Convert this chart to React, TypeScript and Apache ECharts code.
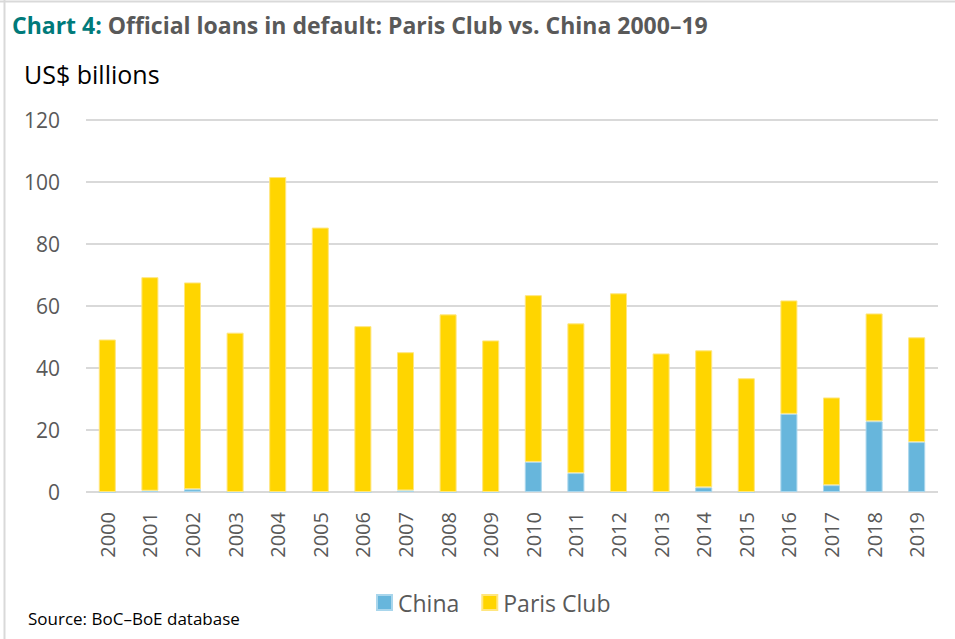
import React, { useEffect, useRef } from "react";
import * as echarts from "echarts";

const years = ["2000","2001","2002","2003","2004","2005","2006","2007","2008","2009","2010","2011","2012","2013","2014","2015","2016","2017","2018","2019"];
const china = [0, 0.4, 0.9, 0, 0, 0, 0, 0.5, 0, 0, 9.7, 6.1, 0, 0, 1.5, 0, 25.2, 2.2, 22.8, 16.1];
const parisClub = [49.2, 68.9, 66.7, 51.4, 101.6, 85.3, 53.5, 44.6, 57.3, 48.9, 53.8, 48.3, 64.1, 44.7, 44.2, 36.7, 36.6, 28.3, 34.8, 33.8];
const yTicks = { min: 0, max: 120, interval: 20 };

const FONT = "'Open Sans', 'Noto Sans', sans-serif";

export default function App() {
  const ref = useRef<HTMLDivElement>(null);
  useEffect(() => {
    if (!ref.current) return;
    const chart = echarts.init(ref.current, null, { renderer: "svg" });
    chart.setOption({
      animation: false,
      backgroundColor: "#ffffff",
      textStyle: { fontFamily: FONT },
      grid: { left: 86, right: 17, top: 120, height: 372 },
      xAxis: {
        type: "category",
        data: years,
        axisLine: { show: false },
        axisTick: { show: false },
        axisLabel: { rotate: 90, margin: 20, fontSize: 20, color: "#595959", fontFamily: FONT },
      },
      yAxis: {
        type: "value",
        min: yTicks.min,
        max: yTicks.max,
        interval: yTicks.interval,
        axisLine: { show: false },
        axisTick: { show: false },
        axisLabel: { margin: 26, fontSize: 21, color: "#595959", fontFamily: FONT },
        splitLine: { lineStyle: { color: "#d9d9d9", width: 2 } },
      },
      legend: {
        top: 586,
        left: 371,
        itemWidth: 15,
        itemHeight: 15,
        itemGap: 22,
        icon: "rect",
        textStyle: { fontSize: 23, color: "#595959", fontFamily: FONT, padding: [0, 0, 0, 1] },
        data: ["China", "Paris Club"],
      },
      series: [
        {
          name: "China",
          type: "bar",
          stack: "total",
          data: china,
          barCategoryGap: "60%",
          itemStyle: { color: "#67b6dc", borderColor: "#a9d6ec", borderWidth: 1 },
        },
        {
          name: "Paris Club",
          type: "bar",
          stack: "total",
          data: parisClub,
          barCategoryGap: "60%",
          itemStyle: { color: "#ffd500", borderColor: "#ffe680", borderWidth: 1 },
        },
      ],
      graphic: [
        { type: "line", shape: { x1: 0, y1: 1.5, x2: 955, y2: 1.5 }, style: { stroke: "#d9d9d9", lineWidth: 2 } },
        { type: "line", shape: { x1: 4.5, y1: 0, x2: 4.5, y2: 639 }, style: { stroke: "#d9d9d9", lineWidth: 2 } },
        {
          type: "text",
          left: 12,
          top: 13,
          style: {
            text: "{a|Chart 4:}{b| Official loans in default: Paris Club vs. China 2000–19}",
            rich: {
              a: { fontSize: 23, fontWeight: "bold", fill: "#007a7a", fontFamily: FONT },
              b: { fontSize: 23, fontWeight: "bold", fill: "#595959", fontFamily: FONT },
            },
          },
        },
        {
          type: "text",
          left: 24,
          top: 61,
          style: { text: "US$ billions", fontSize: 25, fill: "#000000", fontFamily: FONT },
        },
        {
          type: "text",
          left: 28,
          top: 610,
          style: { text: "Source: BoC–BoE database", fontSize: 17, fill: "#000000", fontFamily: FONT },
        },
      ],
    });
    return () => chart.dispose();
  }, []);
  return (
    <div
      ref={ref}
      style={{ position: "fixed", left: 0, top: 0, width: 955, height: 639 }}
    />
  );
}
